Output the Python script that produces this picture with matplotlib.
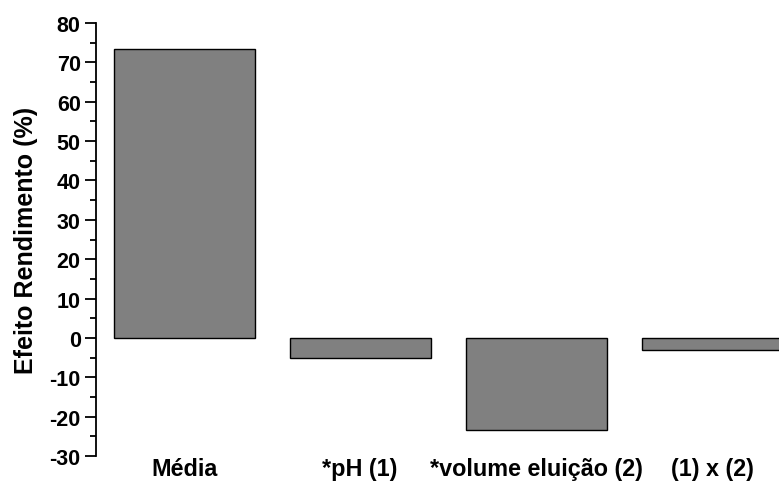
import matplotlib
matplotlib.use("Agg")
import matplotlib.pyplot as plt
from matplotlib.ticker import MultipleLocator

# effects
categories = ["Média", "*pH (1)", "*volume eluição (2)", "(1) x (2)"]
effects = [73.5, -5.0, -23.3, -3.0]

plt.rcParams['font.family'] = ['Liberation Sans', 'DejaVu Sans']
plt.rcParams['font.weight'] = 'bold'
plt.rcParams['axes.unicode_minus'] = False

fig = plt.figure(figsize=(7.79, 4.85), dpi=100)
ax = fig.add_axes([96 / 779, 28 / 485, 683 / 779, 433 / 485])

x = list(range(len(categories)))
ax.bar(x, effects, width=0.8, color="#808080", edgecolor="black", linewidth=1.0)

ax.set_xlim(-0.5, 3.378)
ax.set_ylim(-30, 80)
ax.yaxis.set_major_locator(MultipleLocator(10))
ax.yaxis.set_minor_locator(MultipleLocator(5))

for side in ["top", "right", "bottom"]:
    ax.spines[side].set_visible(False)
ax.spines["left"].set_linewidth(1.3)

ax.tick_params(axis="y", which="major", length=8, width=1.3, labelsize=15.5, pad=3)
ax.tick_params(axis="y", which="minor", length=4, width=1.3)
ax.tick_params(axis="x", length=0, labelsize=16.8, pad=1)
ax.set_xticks(x)
ax.set_xticklabels(categories, fontweight="bold")
for lbl in ax.get_yticklabels():
    lbl.set_fontweight("bold")

ax.set_ylabel("Efeito Rendimento (%)", fontsize=18, fontweight="bold", labelpad=8)

fig.savefig("out.png", dpi=100)
